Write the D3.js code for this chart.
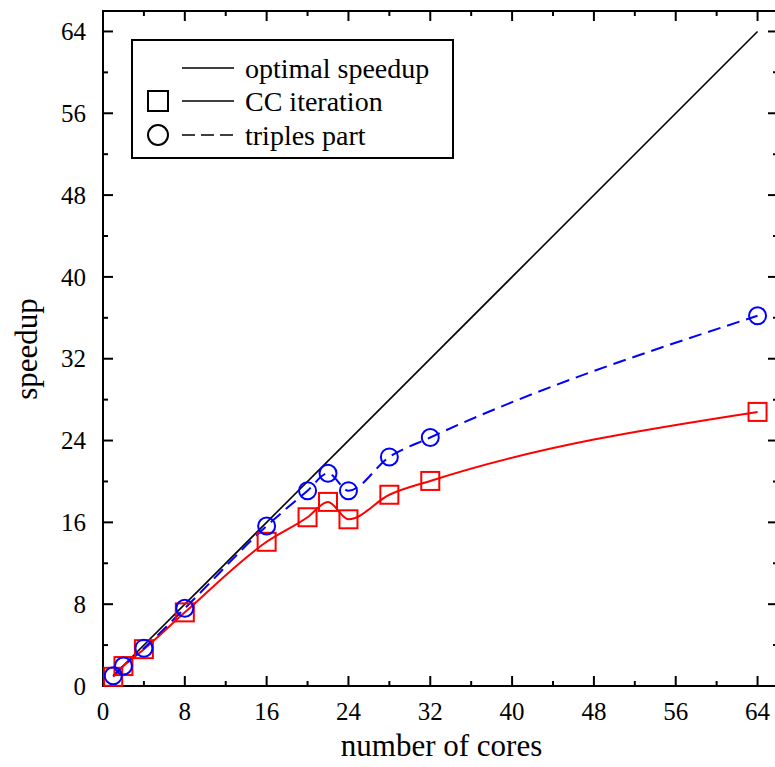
<!DOCTYPE html>
<html>
<head>
<meta charset="utf-8">
<script src="https://cdn.jsdelivr.net/npm/d3@7"></script>
<style>
  body { margin: 0; background: #fff; }
  svg { display: block; }
  svg text { font-family: "Liberation Serif", "DejaVu Serif", "Times New Roman", serif; }
</style>
</head>
<body>
<svg id="chart"></svg>
<script>
// data
const cores = [1, 2, 4, 8, 16, 20, 22, 24, 28, 32, 64];
const ccIteration = [0.9, 1.95, 3.6, 7.2, 14.1, 16.5, 18.0, 16.3, 18.7, 20.05, 26.8];
const triplesPart = [1.0, 1.95, 3.7, 7.6, 15.65, 19.1, 20.8, 19.1, 22.4, 24.3, 36.2];
const optimal = [1, 64];
const tickValues = [0, 8, 16, 24, 32, 40, 48, 56, 64];
const minorTicks = [4, 12, 20, 28, 36, 44, 52, 60];
const legendLabels = ["optimal speedup", "CC iteration", "triples part"];

const W = 775, H = 767;
const pL = 103, pR = 778, pT = 11, pB = 686;

const svg = d3.select("#chart").attr("width", W).attr("height", H);

const x = d3.scaleLinear().domain([0, 66]).range([pL, pR]);
const y = d3.scaleLinear().domain([0, 66]).range([pB, pT]);

// ticks on all four sides, pointing inward
function ticks(vals, len) {
  vals.forEach(v => {
    svg.append("line").attr("x1", x(v)).attr("x2", x(v)).attr("y1", pB).attr("y2", pB - len);
    svg.append("line").attr("x1", x(v)).attr("x2", x(v)).attr("y1", pT).attr("y2", pT + len);
    svg.append("line").attr("y1", y(v)).attr("y2", y(v)).attr("x1", pL).attr("x2", pL + len);
    svg.append("line").attr("y1", y(v)).attr("y2", y(v)).attr("x1", pR).attr("x2", pR - len);
  });
}
ticks(tickValues, 10);
ticks(minorTicks, 5);
svg.selectAll("line").attr("stroke", "#000").attr("stroke-width", 2);

svg.append("rect")
  .attr("x", pL).attr("y", pT)
  .attr("width", pR - pL).attr("height", pB - pT)
  .attr("fill", "none").attr("stroke", "#000").attr("stroke-width", 2);

// tick labels
svg.selectAll(".xl").data(tickValues).enter().append("text")
  .attr("x", d => x(d)).attr("y", 720)
  .attr("text-anchor", "middle").attr("font-size", 25)
  .text(d => d);
svg.selectAll(".yl").data(tickValues).enter().append("text")
  .attr("x", 86).attr("y", d => y(d)).attr("dy", "0.35em")
  .attr("text-anchor", "end").attr("font-size", 25)
  .text(d => d);

svg.append("text").attr("x", (pL + pR) / 2 + 1).attr("y", 756)
  .attr("text-anchor", "middle").attr("font-size", 31).text("number of cores");
svg.append("text").attr("transform", "translate(37,349) rotate(-90)")
  .attr("text-anchor", "middle").attr("font-size", 31).text("speedup");

// lines
const spline = d3.line().x(d => x(d[0])).y(d => y(d[1])).curve(d3.curveMonotoneX);

svg.append("path")
  .attr("d", d3.line().x(d => x(d)).y(d => y(d))(optimal))
  .attr("fill", "none").attr("stroke", "#000").attr("stroke-width", 1.6);

svg.append("path")
  .attr("d", spline(d3.zip(cores, ccIteration)))
  .attr("fill", "none").attr("stroke", "#f00").attr("stroke-width", 2);

svg.append("path")
  .attr("d", spline(d3.zip(cores, triplesPart)))
  .attr("fill", "none").attr("stroke", "#00f").attr("stroke-width", 2)
  .attr("stroke-dasharray", "13,7");

// markers
svg.selectAll(".sq").data(d3.zip(cores, ccIteration)).enter().append("rect")
  .attr("x", d => x(d[0]) - 9).attr("y", d => y(d[1]) - 9)
  .attr("width", 18).attr("height", 18)
  .attr("fill", "none").attr("stroke", "#f00").attr("stroke-width", 2);

svg.selectAll(".ci").data(d3.zip(cores, triplesPart)).enter().append("circle")
  .attr("cx", d => x(d[0])).attr("cy", d => y(d[1])).attr("r", 8.5)
  .attr("fill", "none").attr("stroke", "#00f").attr("stroke-width", 2);

// legend
const lg = svg.append("g");
lg.append("rect").attr("x", 132).attr("y", 40).attr("width", 321).attr("height", 118)
  .attr("fill", "#fff").attr("stroke", "#000").attr("stroke-width", 2);
const rows = [68, 101, 135];
legendLabels.forEach((lab, i) => {
  lg.append("line").attr("x1", 182).attr("x2", 234).attr("y1", rows[i]).attr("y2", rows[i])
    .attr("stroke", "#000").attr("stroke-width", 1.6)
    .attr("stroke-dasharray", i === 2 ? "13,6" : null);
  lg.append("text").attr("x", 245).attr("y", rows[i]).attr("dy", "0.34em")
    .attr("font-size", 28).text(lab);
});
lg.append("rect").attr("x", 148).attr("y", rows[1] - 10).attr("width", 20).attr("height", 20)
  .attr("fill", "none").attr("stroke", "#000").attr("stroke-width", 2);
lg.append("circle").attr("cx", 158).attr("cy", rows[2]).attr("r", 10)
  .attr("fill", "none").attr("stroke", "#000").attr("stroke-width", 2);
</script>
</body>
</html>
